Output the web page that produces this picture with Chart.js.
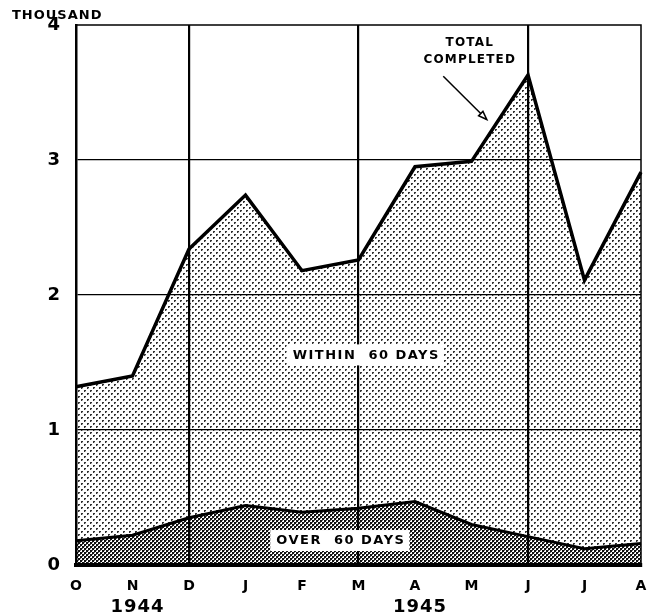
<!DOCTYPE html>
<html><head><meta charset="utf-8">
<script src="https://cdn.jsdelivr.net/npm/chart.js@4"></script>
<style>html,body{margin:0;padding:0;background:#fff;overflow:hidden}#wrap{width:649px;height:616px}canvas{display:block}</style>
</head><body><div id="wrap"><canvas id="c" width="649" height="616"></canvas></div>
<script>
const months = ['O','N','D','J','F','M','A','M','J','J','A'];
const totalCompleted = [1.32, 1.40, 2.34, 2.74, 2.18, 2.26, 2.95, 2.99, 3.63, 2.11, 2.91];
const over60Days = [0.18, 0.22, 0.35, 0.44, 0.39, 0.42, 0.47, 0.30, 0.21, 0.12, 0.16];
const yTicks = [0, 1, 2, 3, 4];
const years = [{label:'1944', at:1}, {label:'1945', at:6}];
const verticalGridAt = [2, 5, 8];

function makePattern(dark){
  const t = document.createElement('canvas');
  const n = dark ? 4 : 6;
  t.width = n; t.height = n;
  const g = t.getContext('2d');
  g.fillStyle = '#fff'; g.fillRect(0,0,n,n);
  if(dark){
    g.fillStyle = '#111';
    g.fillRect(0,0,2,2); g.fillRect(2,2,2,2);
    g.fillStyle = '#666';
    g.fillRect(2,0,1,1); g.fillRect(0,2,1,1);
  } else {
    g.fillStyle='#333';
    g.fillRect(0,0,2,2); g.fillRect(3,3,2,2);
    g.fillStyle='#bbb';
    g.fillRect(1,1,1,1); g.fillRect(4,4,1,1);
  }
  return document.getElementById('c').getContext('2d').createPattern(t,'repeat');
}
const FONT = '"DejaVu Sans", sans-serif';

const annot = {
  id:'annot',
  afterDraw(chart){
    const c = chart.ctx, x = chart.scales.x, y = chart.scales.y, a = chart.chartArea;
    c.save();
    c.strokeStyle='#000';
    c.lineWidth=1.5;
    c.beginPath(); c.moveTo(a.left,a.top); c.lineTo(a.right,a.top); c.lineTo(a.right,a.bottom); c.stroke();
    c.fillStyle='#000';
    c.font='bold 13px '+FONT; c.textAlign='left'; c.textBaseline='middle';
    c.letterSpacing='1px';
    c.fillText('THOUSAND', 12, 16);
    c.font='bold 18px '+FONT; c.textAlign='center';
    years.forEach(yv=>c.fillText(yv.label, x.getPixelForValue(yv.at)+5, 607));
    function box(txt, xi, v){
      c.font='bold 13px '+FONT;
      c.letterSpacing='1.5px';
      const px=x.getPixelForValue(xi), py=y.getPixelForValue(v);
      const tw=c.measureText(txt).width;
      c.fillStyle='#fff';
      c.fillRect(px-tw/2-5, py-10, tw+10, 21);
      c.fillStyle='#000'; c.textAlign='center'; c.textBaseline='middle';
      c.fillText(txt, px+1, py+1);
    }
    box('WITHIN  60 DAYS', 5.12, 1.56);
    box('OVER  60 DAYS', 4.67, 0.185);
    c.font='bold 12px '+FONT; c.letterSpacing='1.2px'; c.textAlign='center'; c.textBaseline='middle'; c.fillStyle='#000';
    c.fillText('TOTAL', x.getPixelForValue(6.97), y.getPixelForValue(3.87));
    c.fillText('COMPLETED', x.getPixelForValue(6.97), y.getPixelForValue(3.74));
    const x1=x.getPixelForValue(6.5), y1=y.getPixelForValue(3.62), x2=x.getPixelForValue(7.27), y2=y.getPixelForValue(3.30);
    c.lineWidth=1.5; c.beginPath(); c.moveTo(x1,y1); c.lineTo(x2,y2); c.stroke();
    const ang=Math.atan2(y2-y1,x2-x1);
    c.beginPath(); c.moveTo(x2,y2);
    c.lineTo(x2-9*Math.cos(ang-0.35), y2-9*Math.sin(ang-0.35));
    c.lineTo(x2-9*Math.cos(ang+0.35), y2-9*Math.sin(ang+0.35));
    c.closePath(); c.fillStyle='#fff'; c.fill(); c.stroke();
    c.restore();
  }
};

new Chart(document.getElementById('c'), {
  type:'line',
  data:{
    labels: months,
    datasets:[
      {label:'Over 60 days', data: over60Days, borderColor:'#000', borderWidth:3, pointRadius:0, tension:0,
       fill:'origin', backgroundColor: makePattern(true)},
      {label:'Total completed', data: totalCompleted, borderColor:'#000', borderWidth:3.5, pointRadius:0, tension:0,
       fill:'-1', backgroundColor: makePattern(false)}
    ]
  },
  options:{
    responsive:false, animation:false,
    layout:{padding:{left:0, top:25, right:8, bottom:0}},
    plugins:{legend:{display:false}, tooltip:{enabled:false}},
    scales:{
      x:{
        offset:false,
        grid:{drawTicks:false, color:(ctx)=>verticalGridAt.includes(ctx.index)?'#000':'rgba(0,0,0,0)', lineWidth:2.2, z:1},
        border:{display:true, color:'#000', width:4, z:2},
        ticks:{color:'#000', font:{family:FONT, weight:'bold', size:14}, padding:13, maxRotation:0, autoSkip:false},
        afterFit(s){ s.height = 51; s.paddingLeft = 0; s.paddingRight = 0; }
      },
      y:{
        min:0, max:4,
        afterBuildTicks(s){ s.ticks = yTicks.map(v=>({value:v})); },
        grid:{drawTicks:false, color:(ctx)=>(ctx.tick && ctx.tick.value>0 && ctx.tick.value<4)?'#000':'rgba(0,0,0,0)', lineWidth:1.3, z:1},
        border:{display:true, color:'#000', width:2.5, z:2},
        ticks:{color:'#000', font:{family:FONT, weight:'bold', size:18}, padding:16},
        afterFit(s){ s.width = 76; s.paddingTop = 0; s.paddingBottom = 0; }
      }
    }
  },
  plugins:[annot]
});
</script></body></html>
